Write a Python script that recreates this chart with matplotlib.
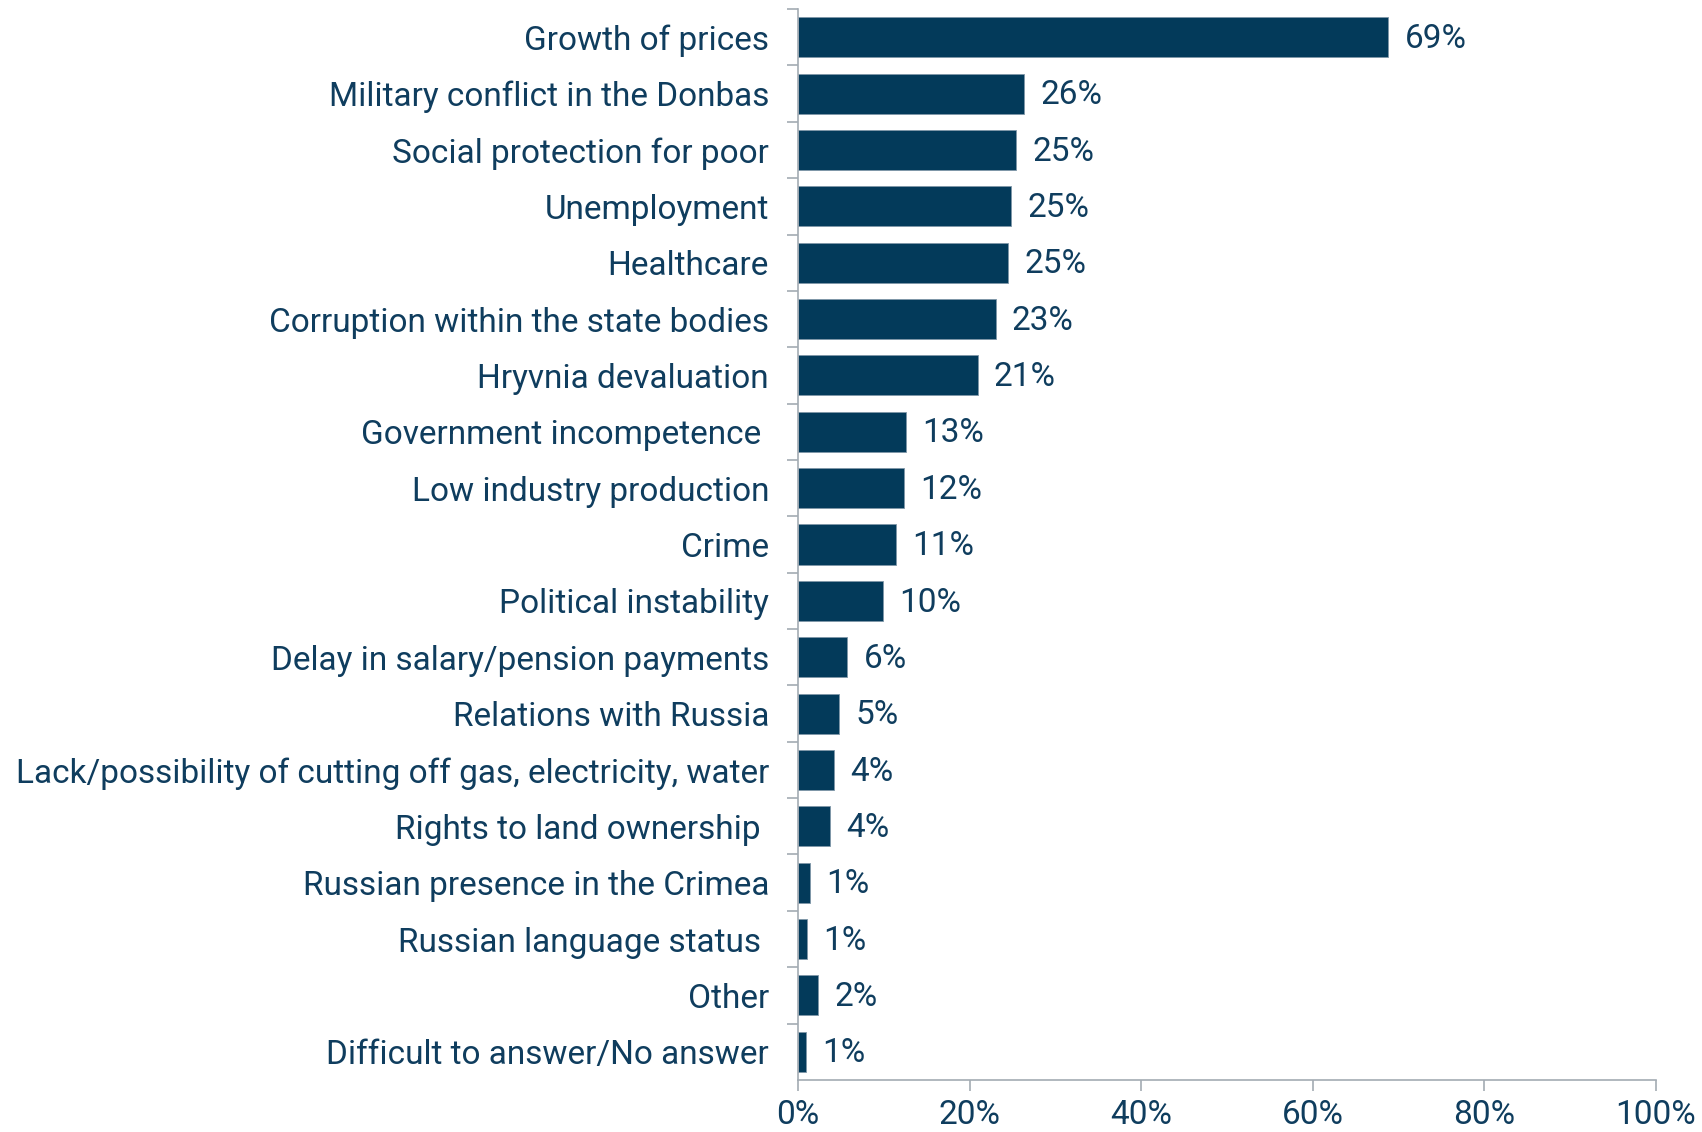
import matplotlib.pyplot as plt
from matplotlib.ticker import FuncFormatter

## DADOS
categorias = ['Growth of prices', 'Military conflict in the Donbas', 'Social protection for poor',
              'Unemployment', 'Healthcare', 'Corruption within the state bodies',
              'Hryvnia devaluation', 'Government incompetence ', 'Low industry production',
              'Crime', 'Political instability', 'Delay in salary/pension payments',
              'Relations with Russia', 'Lack/possibility of cutting off gas, electricity, water',
              'Rights to land ownership ', 'Russian presence in the Crimea',
              'Russian language status ', 'Other', 'Difficult to answer/No answer']
valores = [68.8, 26.3, 25.4, 24.8, 24.5, 23.0, 20.9, 12.6, 12.3, 11.4, 9.9, 5.7, 4.8, 4.2, 3.7, 1.4, 1.0, 2.3, 0.9]
rotulos = ['69%', '26%', '25%', '25%', '25%', '23%', '21%', '13%', '12%', '11%', '10%',
           '6%', '5%', '4%', '4%', '1%', '1%', '2%', '1%']
xticks = [0, 20, 40, 60, 80, 100]

azul = '#033a5a'
texto = '#0f3d5e'
cinza = '#a3abb3'

plt.rcParams['font.family'] = ['Roboto', 'DejaVu Sans']
fs = 24

fig = plt.figure(figsize=(17.02, 11.32), dpi=100)
ax = fig.add_axes([0.469, 0.046, 0.504, 0.946])

pos = list(range(len(categorias)))
ax.barh(pos, valores, height=0.71, color=azul, edgecolor='#7f97a8', linewidth=0.6)
ax.set_ylim(len(categorias) - 0.5, -0.5)
ax.set_xlim(0, 100)

## RÓTULOS DAS BARRAS
for p, v, r in zip(pos, valores, rotulos):
    ax.text(v + 1.9, p + 0.03, r, va='center', ha='left', fontsize=fs, color=texto)

ax.set_yticks([p + 0.5 for p in pos[:-1]] + [-0.5], minor=False)
ax.set_yticklabels([])
ax.set_yticks(pos, minor=True)
ax.set_yticklabels(categorias, minor=True, fontsize=fs, color=texto)
ax.tick_params(axis='y', which='major', length=8, color=cinza, width=1.2, direction='out')
ax.tick_params(axis='y', which='minor', length=0, pad=21)

ax.set_xticks(xticks)
ax.xaxis.set_major_formatter(FuncFormatter(lambda x, p: f'{int(x)}%'))
ax.tick_params(axis='x', length=8, color=cinza, width=1.2, pad=6, labelsize=fs, labelcolor=texto)

for s in ['top', 'right']:
    ax.spines[s].set_visible(False)
for s in ['left', 'bottom']:
    ax.spines[s].set_color(cinza)
    ax.spines[s].set_linewidth(1.2)

plt.savefig('out.png', dpi=100)
